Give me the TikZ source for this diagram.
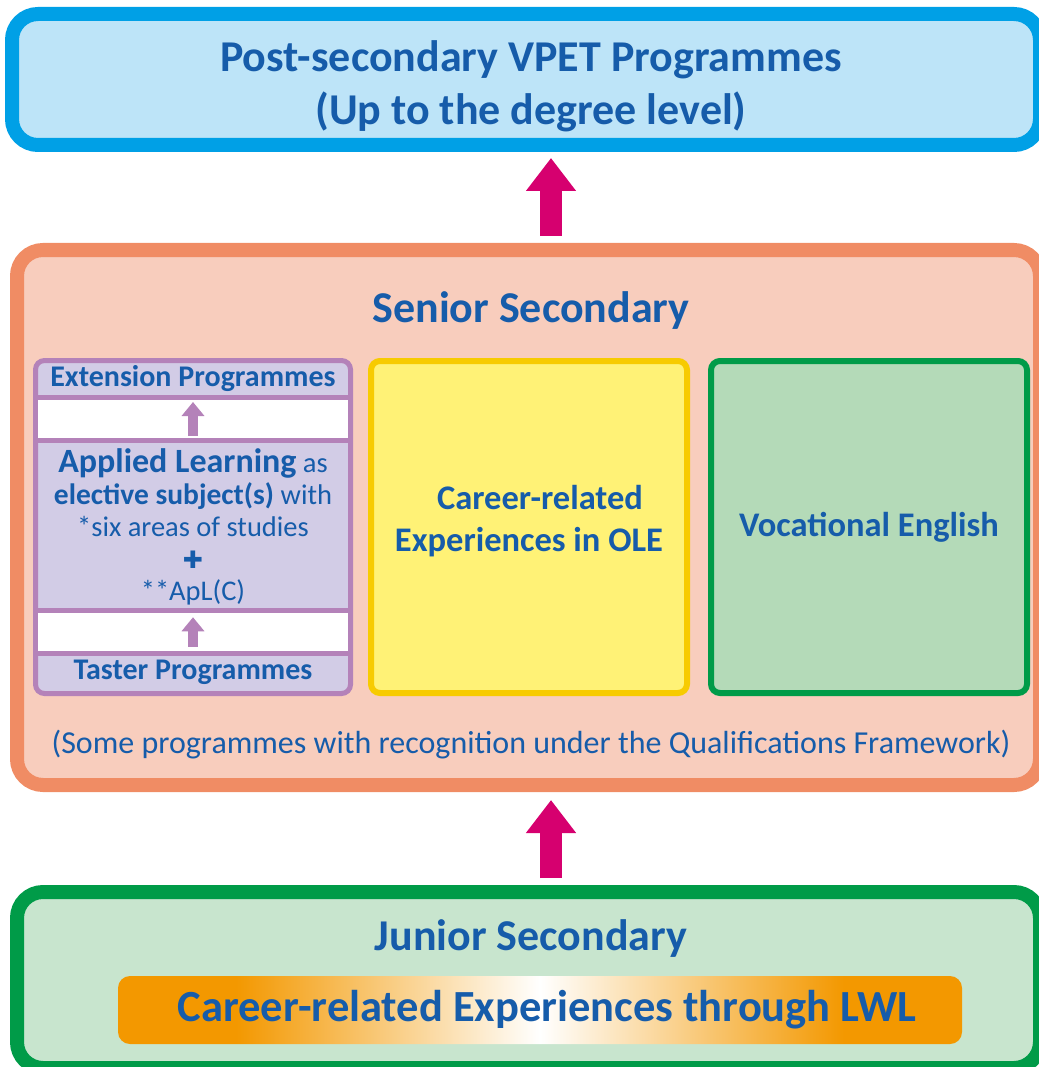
\documentclass[tikz,border=0pt]{standalone}
\usepackage{fontspec}
\setmainfont{Carlito}
\newfontfamily\symfont{DejaVu Sans}
\usepackage{tikz}
\usepackage{xcolor}
\usetikzlibrary{arrows.meta}
\usetikzlibrary{shapes,backgrounds}

\definecolor{textBlue}{RGB}{22,92,170}
\definecolor{postBorder}{RGB}{0,160,230}
\definecolor{postFill}{RGB}{189,228,248}
\definecolor{arrowPink}{RGB}{214,0,111}
\definecolor{seniorBorder}{RGB}{240,140,100}
\definecolor{seniorFill}{RGB}{248,205,189}
\definecolor{alBorder}{RGB}{180,130,185}
\definecolor{alFill}{RGB}{210,204,230}
\definecolor{oleBorder}{RGB}{247,203,0}
\definecolor{oleFill}{RGB}{255,242,118}
\definecolor{veBorder}{RGB}{0,155,72}
\definecolor{veFill}{RGB}{180,218,184}
\definecolor{juniorFill}{RGB}{200,229,206}
\definecolor{barOrange}{RGB}{243,152,0}

\pgfdeclarehorizontalshading{lwlshade}{100bp}{color(0bp)=(barOrange); color(32bp)=(barOrange); color(50bp)=(white); color(68bp)=(barOrange); color(100bp)=(barOrange)}

\begin{document}
\begin{tikzpicture}[x=1pt,y=-1pt,every node/.style={text=textBlue},
    level box/.style={rectangle,rounded corners=26pt,line width=14pt},
    inner box/.style={rectangle,rounded corners=9pt,line width=6pt,minimum width=316pt,
                      minimum height=332pt,align=center,font=\fontsize{34.5}{42}\selectfont\bfseries},
    band/.style={rectangle,fill=white,draw=alBorder,line width=5pt,minimum width=315pt,
                 minimum height=42.5pt,inner sep=0pt},
    al part/.style={minimum width=315pt,inner sep=0pt,outer sep=0pt},
    big arrow/.style={-{Triangle[width=48pt,length=33pt]},line width=22pt,draw=arrowPink},
    small arrow/.style={-{Triangle[width=22pt,length=14pt]},line width=10pt,draw=alBorder,
                        shorten <=6pt,shorten >=5pt}]

  \useasboundingbox (0,0) rectangle (1038,1067);
  \coordinate (axis) at (551,0);

  % post-secondary
  \node[level box,draw=postBorder,fill=postFill,minimum width=1028pt,minimum height=131pt] (post) at (526,79.5) {};
  \node[align=center,font=\fontsize{44}{53}\selectfont\bfseries] (post title) at (531,86)
        {Post-secondary VPET Programmes\\(Up to the degree level)};

  % senior secondary
  \node[level box,draw=seniorBorder,fill=seniorFill,minimum width=1023pt,minimum height=535pt] (senior) at (528.5,517.5) {};
  \node[font=\fontsize{44}{44}\selectfont\bfseries] (senior title) at (531,311) {Senior Secondary};

  \node[draw=alBorder,fill=alFill,rounded corners=9pt,line width=5pt,minimum width=315pt,minimum height=333pt] (al box) at (193,527) {};
  \node[band] (band top) at (193,418.75) {};
  \node[band] (band bottom) at (193,631.75) {};
  \node[al part,minimum height=37pt,font=\fontsize{30}{30}\selectfont\bfseries] (extension) at (193,378.5) {Extension Programmes};
  \node[al part,minimum height=170.5pt,align=center,font=\fontsize{28.5}{32}\selectfont] (applied) at (193,527)
        {{\fontsize{34}{32}\selectfont\bfseries Applied Learning} as\\
         {\fontsize{29.5}{32}\selectfont\bfseries elective subject(s)} with\\
         *six areas of studies\\
         {\symfont\fontsize{24}{24}\selectfont ✚}\\
         **ApL(C)};
  \node[al part,minimum height=40.5pt,font=\fontsize{30}{30}\selectfont\bfseries] (taster) at (193,672.75) {Taster Programmes};

  \node[inner box,draw=oleBorder,fill=oleFill] (ole) at (529,527) {\hspace*{22pt}Career-related\\Experiences in OLE\\[-24pt]};
  \node[inner box,draw=veBorder,fill=veFill] (vocational) at (869,527) {Vocational English};

  \node[font=\fontsize{32}{32}\selectfont] (qf note) at (531,745)
        {(Some programmes with recognition under the Qualifications Framework)};

  % junior secondary
  \node[level box,draw=veBorder,fill=juniorFill,minimum width=1023pt,minimum height=176pt] (junior) at (528.5,980) {};
  \node[font=\fontsize{44}{44}\selectfont\bfseries] (junior title) at (531,939) {Junior Secondary};
  \node[rectangle,rounded corners=12pt,shade,shading=lwlshade,minimum width=844pt,minimum height=68pt,
        font=\fontsize{44.5}{44.5}\selectfont\bfseries] (lwl) at (540,1010) {\hspace*{14pt}Career-related Experiences through LWL};

  \draw[small arrow] (applied.north) -- (extension.south);
  \draw[small arrow] (taster.north) -- (applied.south);
  \draw[big arrow,shorten <=7pt,shorten >=6pt] (senior.north -| axis) -- (post.south -| axis);
  \draw[big arrow,shorten <=7pt,shorten >=8pt] (junior.north -| axis) -- (senior.south -| axis);
\end{tikzpicture}
\end{document}
